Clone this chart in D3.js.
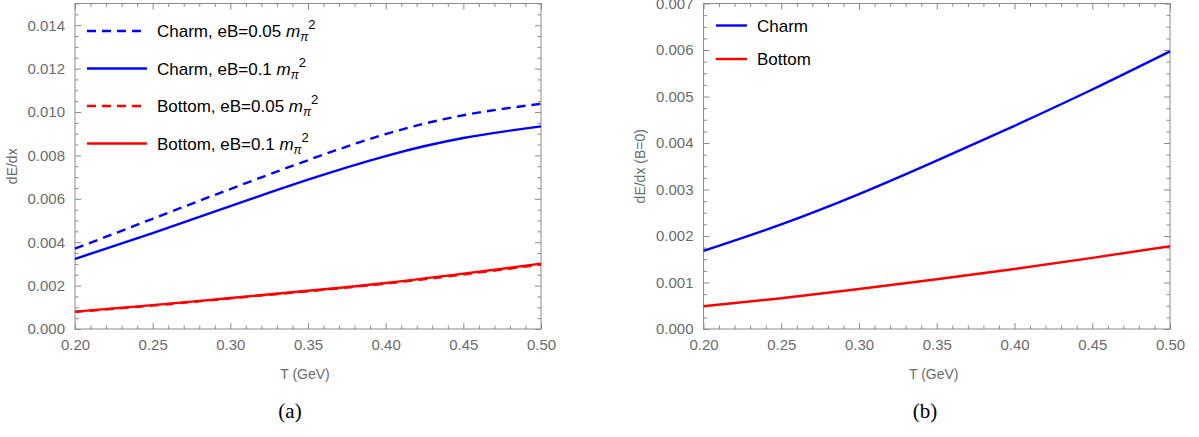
<!DOCTYPE html>
<html>
<head>
<meta charset="utf-8">
<script src="https://d3js.org/d3.v7.min.js"></script>
<style>
  body { margin: 0; background: #fff; }
  svg { display: block; }
  .tick text { font-family: "Liberation Sans", Arial, sans-serif; font-size: 15px; fill: #6b6b6b; }
  .tick line { stroke: #8a8a8a; }
  .frame { fill: none; stroke: #8a8a8a; stroke-width: 1; }
  .title { font-family: "Liberation Sans", Arial, sans-serif; font-size: 14px; fill: #6b6b6b; }
  .legend { font-family: "Liberation Sans", Arial, sans-serif; font-size: 17px; fill: #000; }
  .caption { font-family: "Liberation Serif", "DejaVu Serif", serif; font-size: 21px; fill: #000; }
</style>
</head>
<body>
<div id="chart"></div>
<script>
// temperature grid (GeV)
var temps = [0.20, 0.25, 0.30, 0.35, 0.40, 0.45, 0.50];

// panel (a): dE/dx with magnetic field
var charmEB005  = [0.00370, 0.00508, 0.00645, 0.00778, 0.00898, 0.00985, 0.01038];
var charmEB01   = [0.00323, 0.00442, 0.00566, 0.00688, 0.00797, 0.00880, 0.00934];
var bottomEB005 = [0.00079, 0.00108, 0.00141, 0.00174, 0.00209, 0.00251, 0.00297];
var bottomEB01  = [0.00080, 0.00110, 0.00143, 0.00176, 0.00212, 0.00255, 0.00301];

// panel (b): dE/dx at B=0
var charmB0  = [0.00168, 0.00225, 0.00290, 0.00362, 0.00437, 0.00515, 0.00597];
var bottomB0 = [0.00049, 0.00066, 0.00086, 0.00107, 0.00129, 0.00153, 0.00178];

var xTicks = [0.20, 0.25, 0.30, 0.35, 0.40, 0.45, 0.50];
var yTicksA = [0, 0.002, 0.004, 0.006, 0.008, 0.010, 0.012, 0.014];
var yTicksB = [0, 0.001, 0.002, 0.003, 0.004, 0.005, 0.006, 0.007];

var W = 1199, H = 437;
var svg = d3.select("#chart").append("svg")
    .attr("width", W)
    .attr("height", H);

function range(a, b, step) {
  var out = [];
  var n = Math.round((b - a) / step);
  for (var i = 0; i <= n; i++) out.push(+(a + i * step).toFixed(6));
  return out;
}

function panel(opt) {
  var x = d3.scaleLinear().domain([0.2, 0.5]).range([opt.left, opt.right]);
  var y = d3.scaleLinear().domain([0, opt.ymax]).range([opt.bottom, opt.top]);
  var g = svg.append("g");

  var xMinor = range(0.2, 0.5, 0.01).filter(function(v){ return xTicks.indexOf(v) < 0; });
  var yMinor = range(0, opt.ymax, opt.ystep / 4).filter(function(v){ return opt.yTicks.indexOf(v) < 0; });

  // bottom axis with labels
  g.append("g").attr("transform", "translate(0," + opt.bottom + ")")
    .call(d3.axisBottom(x).tickValues(xTicks).tickSizeInner(-6).tickSizeOuter(0).tickPadding(10).tickFormat(d3.format(".2f")));
  g.append("g").attr("transform", "translate(0," + opt.bottom + ")")
    .call(d3.axisBottom(x).tickValues(xMinor).tickSizeInner(-3.5).tickSizeOuter(0).tickFormat(""));
  // top mirror
  g.append("g").attr("transform", "translate(0," + opt.top + ")")
    .call(d3.axisTop(x).tickValues(xTicks).tickSizeInner(-6).tickSizeOuter(0).tickFormat(""));
  g.append("g").attr("transform", "translate(0," + opt.top + ")")
    .call(d3.axisTop(x).tickValues(xMinor).tickSizeInner(-3.5).tickSizeOuter(0).tickFormat(""));
  // left axis with labels
  g.append("g").attr("transform", "translate(" + opt.left + ",0)")
    .call(d3.axisLeft(y).tickValues(opt.yTicks).tickSizeInner(-6).tickSizeOuter(0).tickPadding(10).tickFormat(d3.format(".3f")));
  g.append("g").attr("transform", "translate(" + opt.left + ",0)")
    .call(d3.axisLeft(y).tickValues(yMinor).tickSizeInner(-3.5).tickSizeOuter(0).tickFormat(""));
  // right mirror
  g.append("g").attr("transform", "translate(" + opt.right + ",0)")
    .call(d3.axisRight(y).tickValues(opt.yTicks).tickSizeInner(-6).tickSizeOuter(0).tickFormat(""));
  g.append("g").attr("transform", "translate(" + opt.right + ",0)")
    .call(d3.axisRight(y).tickValues(yMinor).tickSizeInner(-3.5).tickSizeOuter(0).tickFormat(""));

  g.selectAll(".domain").remove();

  g.append("rect").attr("class", "frame")
    .attr("x", opt.left).attr("y", opt.top)
    .attr("width", opt.right - opt.left).attr("height", opt.bottom - opt.top);

  var line = d3.line()
    .x(function(d){ return x(d[0]); })
    .y(function(d){ return y(d[1]); })
    .curve(d3.curveNatural);

  opt.series.forEach(function(s){
    g.append("path")
      .datum(temps.map(function(t, i){ return [t, s.values[i]]; }))
      .attr("d", line)
      .attr("fill", "none")
      .attr("stroke", s.color)
      .attr("stroke-width", opt.lw)
      .attr("stroke-dasharray", s.dash ? "9,6" : null);
  });

  // axis titles
  g.append("text").attr("class", "title")
    .attr("x", (opt.left + opt.right) / 2 - 3).attr("y", 379)
    .attr("text-anchor", "middle").text("T (GeV)");
  g.append("text").attr("class", "title")
    .attr("transform", "translate(" + opt.ylabX + "," + ((opt.top + opt.bottom) / 2) + ") rotate(-90)")
    .attr("text-anchor", "middle").text(opt.ylabel);

  // legend
  opt.series.forEach(function(s, i){
    var ly = opt.legY + i * opt.legStep;
    g.append("line")
      .attr("x1", opt.legX).attr("x2", opt.legX + opt.legLen)
      .attr("y1", ly).attr("y2", ly)
      .attr("stroke", s.color).attr("stroke-width", opt.lw)
      .attr("stroke-dasharray", s.dash ? "9,6" : null);
    var t = g.append("text").attr("class", "legend")
      .attr("x", opt.legX + opt.legLen + 10).attr("y", ly + 6);
    t.append("tspan").text(s.label);
    if (s.eb) {
      t.append("tspan").text(", eB=" + s.eb + " ");
      t.append("tspan").attr("font-style", "italic").text("m");
      t.append("tspan").attr("font-style", "italic").attr("font-size", "12px").attr("dy", 4).text("\u03c0");
      t.append("tspan").attr("font-size", "13px").attr("dy", -12).text("2");
    }
  });

  svg.append("text").attr("class", "caption")
    .attr("x", opt.capX).attr("y", 418)
    .attr("text-anchor", "middle").text(opt.caption);
}

panel({
  left: 75, right: 541, top: 3.5, bottom: 329,
  ymax: 0.015, ystep: 0.002, yTicks: yTicksA,
  ylabel: "dE/dx", ylabX: 17, lw: 2.4,
  legX: 87, legLen: 60, legY: 31, legStep: 37.5,
  caption: "(a)", capX: 290,
  series: [
    {label: "Charm", eb: "0.05", values: charmEB005, color: "#0000ff", dash: true},
    {label: "Charm", eb: "0.1", values: charmEB01, color: "#0000ff", dash: false},
    {label: "Bottom", eb: "0.05", values: bottomEB005, color: "#ff0000", dash: true},
    {label: "Bottom", eb: "0.1", values: bottomEB01, color: "#ff0000", dash: false}
  ]
});

panel({
  left: 703.5, right: 1170, top: 3.5, bottom: 329,
  ymax: 0.007, ystep: 0.001, yTicks: yTicksB,
  ylabel: "dE/dx (B=0)", ylabX: 645, lw: 2.4,
  legX: 716, legLen: 31, legY: 25.5, legStep: 33.5,
  caption: "(b)", capX: 925,
  series: [
    {label: "Charm", values: charmB0, color: "#0000ff"},
    {label: "Bottom", values: bottomB0, color: "#ff0000"}
  ]
});
</script>
</body>
</html>
